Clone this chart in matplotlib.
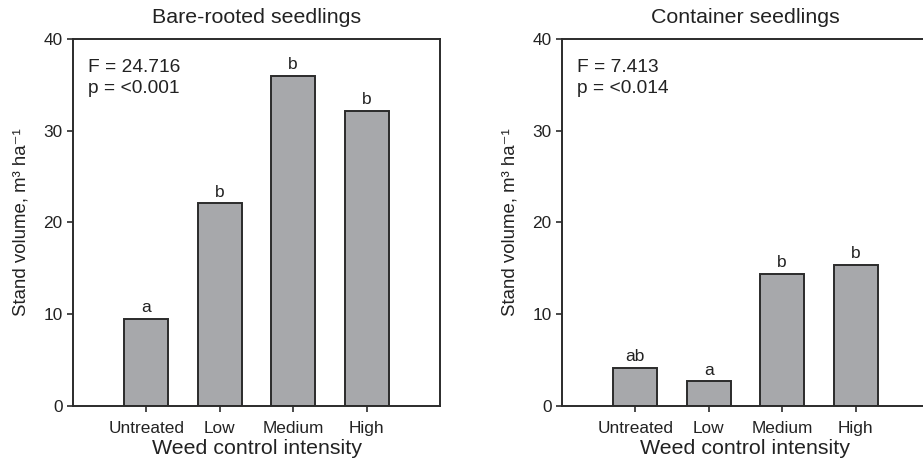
import matplotlib
matplotlib.use("Agg")
import matplotlib.pyplot as plt

plt.rcParams['font.family'] = ['Liberation Sans', 'DejaVu Sans']

categories = ["Untreated", "Low", "Medium", "High"]
bare_values = [9.5, 22.1, 36.0, 32.2]
bare_letters = ["a", "b", "b", "b"]
container_values = [4.15, 2.65, 14.4, 15.4]
container_letters = ["ab", "a", "b", "b"]
titles = ["Bare-rooted seedlings", "Container seedlings"]
stats = ["F = 24.716\np = <0.001", "F = 7.413\np = <0.014"]

W, H = 923, 468
fig = plt.figure(figsize=(W / 100, H / 100), dpi=100)

axL = fig.add_axes([73 / W, (H - 405.7) / H, 367 / W, 366.4 / H])
axR = fig.add_axes([562 / W, (H - 405.7) / H, 367 / W, 366.4 / H])

edge = "#2b2b2b"
txt = "#222222"
for ax, vals, lets, title, st in [
    (axL, bare_values, bare_letters, titles[0], stats[0]),
    (axR, container_values, container_letters, titles[1], stats[1]),
]:
    x = list(range(1, len(categories) + 1))
    ax.bar(x, vals, width=0.6, color="#a7a8ab", edgecolor=edge, linewidth=1.4, zorder=2)
    for xi, v, l in zip(x, vals, lets):
        ax.annotate(l, (xi, v), xytext=(0, 2.5), textcoords="offset points",
                    ha="center", va="bottom", fontsize=12.5, color=txt)
    ax.set_xlim(0, 5)
    ax.set_ylim(0, 40)
    ax.set_yticks([0, 10, 20, 30, 40])
    ax.set_xticks(x)
    ax.set_xticklabels(categories)
    ax.tick_params(axis="both", direction="out", length=4.5, width=1.2, color=edge,
                   labelsize=12.4, labelcolor=txt)
    ax.tick_params(axis="x", pad=6.5)
    ax.tick_params(axis="y", pad=3)
    for s in ax.spines.values():
        s.set_color(edge)
        s.set_linewidth(1.4)
    ax.set_title(title, fontsize=15.4, color=txt, pad=11.5)
    ax.set_xlabel("Weed control intensity", fontsize=15.4, color=txt, labelpad=2)
    ax.set_ylabel("Stand volume, m³ ha⁻¹", fontsize=13.4, color=txt, labelpad=10)
    ax.text(0.04, 0.945, st, transform=ax.transAxes, ha="left", va="top",
            fontsize=13.8, color=txt, linespacing=1.3)

fig.savefig("out.png", dpi=100)
